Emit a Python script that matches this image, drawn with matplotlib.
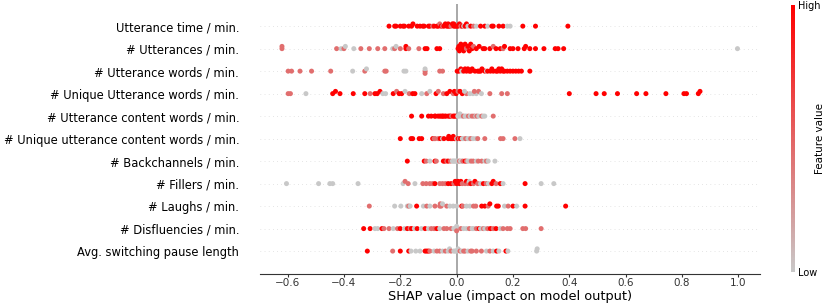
import numpy as np
import matplotlib
import matplotlib.pyplot as plt
from matplotlib.colors import LinearSegmentedColormap

# feature names, top to bottom
features = [
    'Utterance time / min.',
    '# Utterances / min.',
    '# Utterance words / min.',
    '# Unique Utterance words / min.',
    '# Utterance content words / min.',
    '# Unique utterance content words / min.',
    '# Backchannels / min.',
    '# Fillers / min.',
    '# Laughs / min.',
    '# Disfluencies / min.',
    'Avg. switching pause length',
]

# shap values per feature and feature level codes 0=low 1=mid 2=high
utt_time = [-0.24, -0.22, -0.215, -0.20, -0.19, -0.185, -0.17, -0.16, -0.155, -0.14,
            -0.13, -0.12, -0.115, -0.10, -0.095, -0.085, -0.08, -0.07, -0.065, -0.06,
            -0.055, -0.05, -0.045, -0.04, -0.035, -0.03, -0.03, -0.025, -0.02, -0.015,
            -0.01, -0.01, -0.005, 0.0, 0.005, 0.01, 0.015, 0.02, 0.025, 0.03,
            0.035, 0.04, 0.05, 0.06, 0.07, 0.085, 0.10, 0.11, 0.125, 0.13,
            0.15, 0.165, 0.18, 0.19, 0.235, 0.28, 0.395]
utt_time_lvl = [2, 2, 2, 2, 2, 2, 2, 2, 2, 2,
                2, 2, 2, 2, 2, 1, 2, 2, 2, 1,
                2, 1, 2, 2, 2, 2, 2, 2, 1, 2,
                2, 2, 2, 2, 2, 2, 1, 2, 0, 2,
                2, 0, 2, 1, 0, 2, 2, 0, 2, 2,
                2, 2, 0, 0, 2, 2, 2]

n_utt = [-0.62, -0.62, -0.426, -0.41, -0.40, -0.395, -0.365, -0.34, -0.31, -0.28,
         -0.255, -0.227, -0.22, -0.215, -0.20, -0.18, -0.18, -0.17, -0.134, -0.112,
         -0.105, -0.07, -0.06, 0.005, 0.008, 0.01, 0.015, 0.02, 0.02, 0.025,
         0.03, 0.035, 0.04, 0.045, 0.05, 0.055, 0.06, 0.07, 0.08, 0.094,
         0.10, 0.118, 0.13, 0.14, 0.155, 0.165, 0.17, 0.19, 0.2, 0.218,
         0.24, 0.245, 0.26, 0.28, 0.31, 0.35, 0.36, 0.38, 0.997]
n_utt_lvl = [1, 1, 1, 0, 1, 0, 0, 1, 1, 1,
             1, 0, 1, 0, 1, 2, 2, 1, 1, 2,
             2, 2, 2, 2, 2, 2, 2, 2, 2, 2,
             2, 1, 2, 2, 2, 2, 1, 2, 2, 2,
             2, 2, 1, 2, 2, 1, 2, 2, 2, 2,
             2, 2, 2, 2, 2, 2, 2, 2, 0]

n_words = [-0.598, -0.586, -0.556, -0.515, -0.447, -0.369, -0.326, -0.32, -0.255, -0.25,
           -0.187, -0.18, -0.112, -0.112, -0.112, -0.06, -0.05, 0.002, 0.008, 0.015,
           0.018, 0.025, 0.03, 0.035, 0.04, 0.045, 0.05, 0.055, 0.065, 0.075,
           0.08, 0.085, 0.09, 0.10, 0.106, 0.11, 0.12, 0.125, 0.13, 0.14,
           0.145, 0.15, 0.155, 0.16, 0.165, 0.17, 0.18, 0.19, 0.2, 0.21,
           0.22, 0.23, 0.26]
n_words_lvl = [1, 1, 1, 1, 1, 0, 1, 0, 1, 1,
               0, 0, 1, 0, 1, 1, 1, 2, 2, 2,
               0, 2, 2, 2, 2, 2, 2, 2, 2, 2,
               2, 2, 2, 2, 0, 2, 2, 2, 2, 2,
               2, 2, 2, 2, 2, 2, 2, 2, 2, 2,
               2, 2, 2]

n_uniq_words = [-0.598, -0.59, -0.535, -0.44, -0.43, -0.414, -0.367, -0.326, -0.307, -0.29,
                -0.282, -0.272, -0.262, -0.252, -0.225, -0.213, -0.204, -0.195, -0.183, -0.168,
                -0.156, -0.148, -0.124, -0.106, -0.095, -0.073, -0.065, -0.047, -0.035, -0.024,
                -0.012, -0.008, -0.002, 0.005, 0.02, 0.035, 0.047, 0.058, 0.07, 0.078,
                0.118, 0.16, 0.18, 0.4, 0.495, 0.524, 0.571, 0.639, 0.672, 0.743,
                0.807, 0.816, 0.858, 0.864, 0.012, 0.028, 0.063, 0.088]
n_uniq_words_lvl = [1, 1, 0, 2, 2, 2, 2, 2, 1, 2,
                    2, 2, 0, 0, 2, 1, 2, 2, 0, 1,
                    2, 2, 0, 1, 0, 2, 1, 1, 2, 2,
                    1, 2, 2, 1, 2, 1, 0, 0, 0, 1,
                    1, 1, 1, 2, 2, 2, 2, 2, 2, 2,
                    2, 2, 2, 2, 2, 0, 1, 0]

n_content = [-0.16, -0.124, -0.10, -0.09, -0.078, -0.075, -0.066, -0.06, -0.055, -0.05,
             -0.048, -0.042, -0.038, -0.03, -0.025, -0.022, -0.018, -0.012, -0.008, -0.004,
             0.004, 0.01, 0.012, 0.018, 0.024, 0.03, 0.035, 0.042, 0.048, 0.055,
             0.062, 0.068, 0.072, 0.078, 0.089, 0.095, 0.10, 0.13]
n_content_lvl = [2, 2, 2, 2, 2, 2, 2, 2, 2, 2,
                 2, 2, 2, 2, 2, 2, 1, 2, 2, 2,
                 0, 0, 0, 0, 1, 0, 0, 1, 0, 1,
                 1, 0, 1, 0, 1, 0, 0, 1]

n_uniq_content = [-0.20, -0.162, -0.156, -0.133, -0.124, -0.085, -0.08, -0.076, -0.065, -0.058,
                  -0.05, -0.045, -0.03, -0.028, -0.022, -0.018, -0.015, -0.012, -0.008, -0.005,
                  0.0, 0.005, 0.01, 0.014, 0.02, 0.025, 0.032, 0.04, 0.045, 0.05,
                  0.058, 0.068, 0.075, 0.1, 0.156, 0.165, 0.207, 0.225]
n_uniq_content_lvl = [2, 2, 2, 2, 2, 2, 1, 1, 1, 2,
                      0, 2, 2, 2, 2, 2, 2, 2, 2, 2,
                      0, 2, 1, 2, 0, 0, 1, 0, 0, 1,
                      0, 0, 1, 1, 1, 1, 1, 0]

n_backch = [-0.175, -0.115, -0.108, -0.095, -0.077, -0.072, -0.047, -0.042, -0.035, -0.03,
            -0.022, -0.015, -0.012, -0.008, -0.005, 0.0, 0.002, 0.006, 0.01, 0.014,
            0.018, 0.022, 0.03, 0.035, 0.04, 0.046, 0.052, 0.059, 0.07, 0.077,
            0.089, 0.1, 0.106, 0.112, 0.136]
n_backch_lvl = [2, 2, 1, 0, 2, 1, 2, 2, 1, 2,
                1, 0, 0, 0, 0, 0, 0, 0, 1, 0,
                0, 1, 2, 1, 0, 0, 1, 1, 0, 1,
                1, 0, 1, 0, 0]

n_fillers = [-0.604, -0.49, -0.45, -0.44, -0.35, -0.19, -0.183, -0.172, -0.148, -0.12,
             -0.108, -0.095, -0.085, -0.077, -0.06, -0.05, -0.04, -0.03, -0.02, -0.01,
             -0.005, 0.0, 0.005, 0.01, 0.015, 0.02, 0.03, 0.035, 0.04, 0.045,
             0.05, 0.06, 0.065, 0.075, 0.085, 0.095, 0.105, 0.113, 0.125, 0.13,
             0.14, 0.155, 0.165, 0.243, 0.3, 0.345]
n_fillers_lvl = [0, 0, 0, 0, 0, 0, 1, 1, 0, 1,
                 1, 1, 1, 2, 1, 1, 1, 2, 2, 1,
                 2, 2, 2, 2, 2, 1, 1, 2, 1, 0,
                 2, 1, 2, 1, 0, 2, 1, 0, 2, 2,
                 1, 2, 0, 2, 0, 0]

n_laughs = [-0.31, -0.22, -0.198, -0.175, -0.17, -0.165, -0.142, -0.118, -0.106, -0.095,
            -0.077, -0.06, -0.058, -0.055, -0.05, -0.035, -0.024, -0.012, 0.0, 0.018,
            0.022, 0.035, 0.047, 0.06, 0.068, 0.089, 0.1, 0.112, 0.118, 0.142,
            0.148, 0.17, 0.183, 0.2, 0.213, 0.243, 0.387]
n_laughs_lvl = [1, 0, 0, 0, 1, 0, 2, 0, 1, 0,
                1, 1, 1, 1, 0, 1, 0, 0, 0, 2,
                1, 0, 0, 1, 1, 2, 2, 1, 2, 2,
                2, 0, 1, 2, 0, 2, 2]

n_disfl = [-0.33, -0.307, -0.29, -0.28, -0.265, -0.258, -0.24, -0.225, -0.21, -0.2,
           -0.185, -0.175, -0.165, -0.16, -0.15, -0.14, -0.125, -0.112, -0.1, -0.09,
           -0.08, -0.07, -0.06, -0.045, -0.035, -0.02, -0.01, 0.0, 0.0, 0.0,
           0.015, 0.025, 0.035, 0.045, 0.055, 0.06, 0.07, 0.08, 0.085, 0.095,
           0.1, 0.11, 0.12, 0.13, 0.14, 0.155, 0.165, 0.18, 0.19, 0.235,
           0.245, 0.3]
n_disfl_lvl = [2, 2, 0, 0, 2, 1, 1, 0, 1, 2,
               0, 2, 1, 2, 0, 2, 0, 2, 0, 1,
               1, 2, 0, 1, 1, 1, 0, 0, 0, 1,
               1, 0, 0, 1, 0, 0, 1, 2, 0, 1,
               0, 1, 2, 1, 2, 0, 1, 1, 1, 1,
               1, 1]

switch_pause = [-0.317, -0.227, -0.2, -0.17, -0.162, -0.145, -0.13, -0.112, -0.106, -0.1,
                -0.095, -0.08, -0.07, -0.06, -0.05, -0.04, -0.03, -0.025, -0.02, -0.01,
                -0.005, 0.0, 0.005, 0.012, 0.018, 0.025, 0.03, 0.04, 0.05, 0.055,
                0.07, 0.088, 0.106, 0.118, 0.13, 0.142, 0.15, 0.175, 0.182, 0.284,
                0.286]
switch_pause_lvl = [2, 1, 2, 2, 0, 0, 0, 2, 2, 2,
                    1, 0, 1, 1, 0, 1, 0, 0, 1, 0,
                    0, 0, 0, 1, 0, 1, 1, 0, 1, 1,
                    1, 1, 0, 1, 0, 2, 0, 2, 0, 0,
                    0]

rows = [(utt_time, utt_time_lvl), (n_utt, n_utt_lvl), (n_words, n_words_lvl),
        (n_uniq_words, n_uniq_words_lvl), (n_content, n_content_lvl),
        (n_uniq_content, n_uniq_content_lvl), (n_backch, n_backch_lvl),
        (n_fillers, n_fillers_lvl), (n_laughs, n_laughs_lvl),
        (n_disfl, n_disfl_lvl), (switch_pause, switch_pause_lvl)]

cmap = LinearSegmentedColormap.from_list('grey_red', ['#c8c8c8', '#ff0000'])
level_map = {0: 0.0, 1: 0.45, 2: 1.0}

fig = plt.figure(figsize=(8.3, 3.05), dpi=100)
ax = fig.add_axes([260 / 830, 0.103, 500 / 830, 0.885])

n = len(features)
for i, (vals, lvls) in enumerate(rows):
    y0 = n - 1 - i
    shaps = np.array(vals, dtype=float)
    cols = np.array([level_map[l] for l in lvls])
    # simple deterministic beeswarm: bin values and stack points alternately up / down
    nbins = 100
    quant = np.round(nbins * (shaps - shaps.min()) / (shaps.max() - shaps.min() + 1e-8))
    inds = np.argsort(quant, kind='stable')
    layer, last_bin = 0, -1
    ys = np.zeros(len(shaps))
    for ind in inds:
        if quant[ind] != last_bin:
            layer = 0
        ys[ind] = np.ceil(layer / 2) * ((layer % 2) * 2 - 1)
        layer += 1
        last_bin = quant[ind]
    ys *= 0.1
    ax.axhline(y0, color='#cccccc', lw=0.5, dashes=(1, 5), zorder=-1)
    ax.scatter(shaps, y0 + ys, c=cols, cmap=cmap, vmin=0, vmax=1, s=13,
               linewidth=0, zorder=3)

ax.axvline(0, color='#999999', lw=1.2, zorder=-1)
ax.set_xlim(-0.698, 1.077)
ax.set_ylim(-1, n)
ax.set_yticks(range(n))
ax.set_yticklabels(features[::-1], fontsize=8.3)
ax.tick_params(axis='y', length=0, pad=15)
ax.set_xticks([-0.6, -0.4, -0.2, 0.0, 0.2, 0.4, 0.6, 0.8, 1.0])
ax.tick_params(axis='x', labelsize=7.5, colors='#333333', labelcolor='#333333',
               length=2.5, pad=1)
for s in ['left', 'top', 'right']:
    ax.spines[s].set_visible(False)
ax.spines['bottom'].set_color('#333333')
ax.set_xlabel('SHAP value (impact on model output)', fontsize=9.3, labelpad=1)

# colorbar
cax = fig.add_axes([791 / 830, 1 - 272 / 305, 4 / 830, 267 / 305])
sm = matplotlib.cm.ScalarMappable(cmap=cmap, norm=plt.Normalize(0, 1))
cb = fig.colorbar(sm, cax=cax, ticks=[0, 1])
cb.set_ticklabels(['Low', 'High'])
cb.ax.tick_params(labelsize=7, length=0, pad=2)
cb.set_label('Feature value', fontsize=7.5, labelpad=-4)
cb.outline.set_visible(False)

fig.savefig('out.png', dpi=100)
